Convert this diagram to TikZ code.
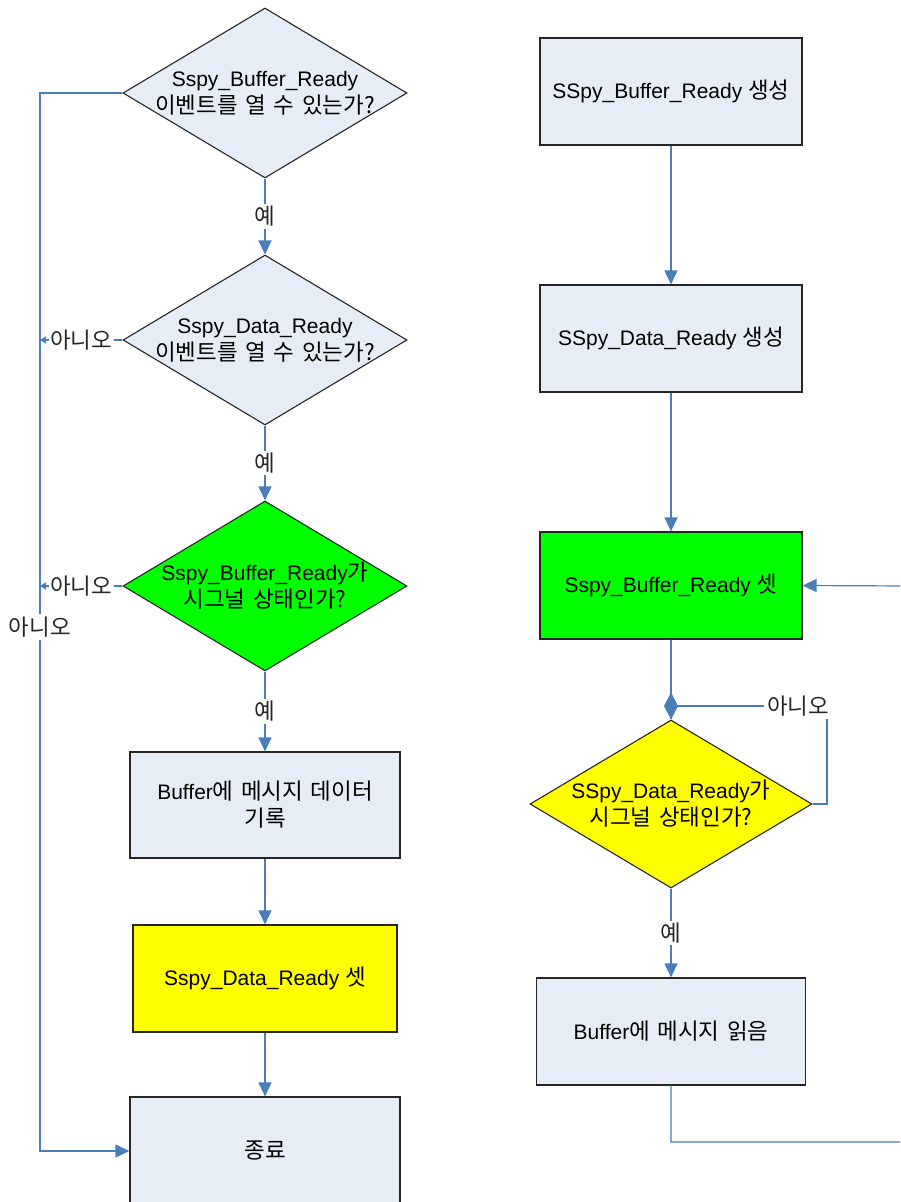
\documentclass[tikz,border=0pt]{standalone}
\usepackage{fontspec}
\setmainfont{Liberation Sans}
\newfontfamily\kr[Scale=1.07,WordSpace=1.5]{Noto Sans CJK KR}
\usetikzlibrary{shapes.geometric,arrows.meta}
\definecolor{boxblue}{HTML}{E7EDF7}
\definecolor{linkblue}{HTML}{4A7EBB}
\definecolor{okgreen}{HTML}{00FF00}
\definecolor{okyellow}{HTML}{FFFF00}
\tikzset{
  every node/.style={font=\fontsize{21}{27}\selectfont},
  stepbox/.style={rectangle,draw=black!85,line width=1.2pt,fill=boxblue,inner sep=0pt,align=center},
  decbox/.style={diamond,draw=black!85,line width=1.1pt,fill=boxblue,inner sep=0pt,minimum width=284pt,minimum height=170pt},
  dtext/.style={align=center,inner sep=0pt},
  link/.style={draw=linkblue,line width=1.2pt},
  arr/.style={link,-{Triangle[length=14pt,width=13pt]}},
  smallarr/.style={link,-{Triangle[length=6pt,width=7pt]}},
  lbl/.style={fill=white,inner sep=2pt,text=black!85},
}
\begin{document}
\begin{tikzpicture}[x=1pt,y=-1pt]
\clip (0,0) rectangle (900,1202);
\fill[white] (0,0) rectangle (900,1202);
% left column
\node[decbox] (d1) at (265,93) {};
\node[dtext] (d1t) at (265,93) {Sspy\_Buffer\_Ready\\{\kr 이벤트를 열 수 있는가?}};
\node[decbox] (d2) at (265,340) {};
\node[dtext] (d2t) at (265,340) {Sspy\_Data\_Ready\\{\kr 이벤트를 열 수 있는가?}};
\node[decbox,fill=okgreen] (d3) at (265,586) {};
\node[dtext] (d3t) at (265,586) {Sspy\_Buffer\_Ready{\kr 가}\\{\kr 시그널 상태인가?}};
\node[stepbox,minimum width=270pt,minimum height=106pt] (b1) at (265,805) {Buffer{\kr 에 메시지 데이터}\\{\kr 기록}};
\node[stepbox,fill=okyellow,minimum width=264pt,minimum height=107pt] (b2) at (265,978.5) {Sspy\_Data\_Ready {\kr 셋}};
\node[stepbox,minimum width=270pt,minimum height=108pt] (b3) at (265,1151) {{\kr 종료}};
\coordinate (l1) at (40,93);
\coordinate (l2) at (40,1151);
\coordinate (l3) at (40,340);
\coordinate (l4) at (40,586);
% left connectors
\draw[arr] (d1.south) -- node[lbl] (y1) {{\kr 예}} (d2.north);
\draw[arr] (d2.south) -- node[lbl] (y2) {{\kr 예}} (d3.north);
\draw[arr] (d3.south) -- node[lbl] (y3) {{\kr 예}} (b1.north);
\draw[arr] (b1.south) -- (b2.north);
\draw[arr] (b2.south) -- (b3.north);
\draw[arr] (d1.west) -- (l1) -- (l2) -- (b3.west);
\node[lbl,inner sep=3pt] (n0) at (40,627) {{\kr 아니오}};
\draw[smallarr] (d2.west) -- node[lbl,inner sep=1.5pt] (n1) {{\kr 아니오}} (l3);
\draw[smallarr] (d3.west) -- node[lbl,inner sep=1.5pt] (n2) {{\kr 아니오}} (l4);
% right column
\node[stepbox,minimum width=262pt,minimum height=107pt] (r1) at (671,91.5) {SSpy\_Buffer\_Ready {\kr 생성}};
\node[stepbox,minimum width=262pt,minimum height=107pt] (r2) at (671,338.5) {SSpy\_Data\_Ready {\kr 생성}};
\node[stepbox,fill=okgreen,minimum width=262pt,minimum height=107pt] (r3) at (671,585.5) {Sspy\_Buffer\_Ready {\kr 셋}};
\node[decbox,fill=okyellow,minimum width=282pt,minimum height=168pt] (d4) at (671,804) {};
\node[dtext] (d4t) at (671,804) {SSpy\_Data\_Ready{\kr 가}\\{\kr 시그널 상태인가?}};
\node[stepbox,minimum width=269pt,minimum height=107pt] (r4) at (671,1031.5) {Buffer{\kr 에 메시지 읽음}};
\draw[arr] (r1.south) -- (r2.north);
\draw[arr] (r2.south) -- (r3.north);
\draw[link] (r3.south) -- (d4.north);
\draw[arr] (d4.south) -- node[lbl] (y4) {{\kr 예}} (r4.north);
\coordinate (c1) at (827,804);
\coordinate (c2) at (827,706);
\coordinate (j) at (664,706);
\draw[link,-{Diamond[length=14pt,width=27pt]}] (d4.east) -- (c1) -- (c2) -- (j);
\node[lbl,inner sep=3pt] (n3) at (798,706) {{\kr 아니오}};
\coordinate (f1) at (671,1142);
\coordinate (f2) at (910,1142);
\coordinate (f3) at (910,586);
\draw[arr] (r4.south) -- (f1) -- (f2) -- (f3) -- (r3.east);
\end{tikzpicture}
\end{document}
